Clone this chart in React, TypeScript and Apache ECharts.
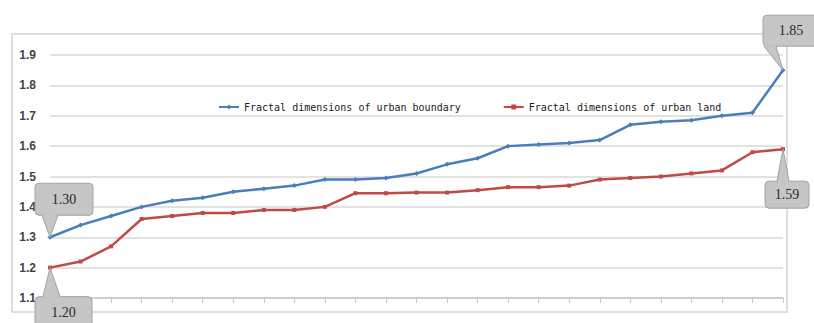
import React, { useEffect, useRef } from "react";
import * as echarts from "echarts";

// Sample order 1..25, sorted ascending by fractal dimension
const categories = Array.from({ length: 25 }, (_, i) => String(i + 1));

const boundaryDim = [
  1.30, 1.34, 1.37, 1.40, 1.42, 1.43, 1.45, 1.46, 1.47, 1.49, 1.49, 1.495, 1.51,
  1.54, 1.56, 1.60, 1.605, 1.61, 1.62, 1.67, 1.68, 1.685, 1.70, 1.71, 1.85,
];

const landDim = [
  1.20, 1.22, 1.27, 1.36, 1.37, 1.38, 1.38, 1.39, 1.39, 1.40, 1.445, 1.445, 1.447,
  1.447, 1.455, 1.465, 1.465, 1.47, 1.49, 1.495, 1.50, 1.51, 1.52, 1.58, 1.59,
];

const seriesNames = [
  "Fractal dimensions of urban boundary",
  "Fractal dimensions of urban land",
];

const yTicks = { min: 1.1, max: 1.9, interval: 0.1 };

// Callouts: which series / point they annotate, and box geometry relative to the tip
const callouts = [
  { series: 0, index: 0, box: [-15, -54, 58, 32], base: [-8, 8] },
  { series: 1, index: 0, box: [-15, 29, 57, 32], base: [-7, 10] },
  { series: 0, index: 24, box: [-20, -55, 56, 31], base: [-19, -7] },
  { series: 1, index: 24, box: [-18, 32, 44, 27], base: [-6, 6] },
];

const BLUE = "#4a7ebb";
const RED = "#be4b48";

export default function App() {
  const ref = useRef<HTMLDivElement>(null);

  useEffect(() => {
    if (!ref.current) return;
    const chart = echarts.init(ref.current, undefined, { renderer: "svg" });
    const values = [boundaryDim, landDim];

    chart.setOption({
      animation: false,
      backgroundColor: "#ffffff",
      grid: { left: 50, right: 31, top: 55, bottom: 25, containLabel: false },
      legend: {
        left: 213,
        top: 97,
        itemWidth: 20,
        itemHeight: 6,
        itemGap: 42,
        textStyle: { fontFamily: "DejaVu Sans Mono", fontSize: 10, color: "#1a1a1a" },
        data: seriesNames,
      },
      xAxis: {
        type: "category",
        data: categories,
        boundaryGap: false,
        axisLine: { lineStyle: { color: "#c8c8c8", width: 1.5 } },
        axisTick: { show: true, length: 5, lineStyle: { color: "#c8c8c8" } },
        axisLabel: { show: false },
        splitLine: { show: false },
      },
      yAxis: {
        type: "value",
        min: yTicks.min,
        max: yTicks.max,
        interval: yTicks.interval,
        axisLine: { show: false },
        axisTick: { show: false },
        axisLabel: {
          margin: 14,
          color: "#444",
          fontSize: 12,
          fontWeight: "bold",
          fontFamily: "Liberation Sans",
          formatter: (v: number) => v.toFixed(1),
        },
        splitLine: { lineStyle: { color: "#d8d8d8", width: 1.5 } },
      },
      series: [
        {
          name: seriesNames[0],
          type: "line",
          data: boundaryDim,
          symbol: "diamond",
          symbolSize: 5,
          itemStyle: { color: BLUE },
          lineStyle: { color: BLUE, width: 2.5 },
          z: 3,
        },
        {
          name: seriesNames[1],
          type: "line",
          data: landDim,
          symbol: "rect",
          symbolSize: 4,
          itemStyle: { color: RED },
          lineStyle: { color: RED, width: 2.5 },
          z: 3,
        },
      ],
    });

    const fill = "#c6c6c6";
    const stroke = "#a2a2a2";
    const elements: any[] = [
      {
        type: "rect",
        z: 0,
        silent: true,
        shape: { x: 12, y: 34, width: 775, height: 278 },
        style: { fill: "none", stroke: "#d4d4d4", lineWidth: 1.5 },
      },
    ];

    callouts.forEach((c) => {
      const v = values[c.series][c.index];
      const [tx, ty] = chart.convertToPixel({ seriesIndex: c.series }, [c.index, v]) as number[];
      const [bx, by, bw, bh] = c.box;
      const x = tx + bx;
      const y = ty + by;
      const edgeY = by < 0 ? y + bh : y;
      const b1: [number, number] = [tx + c.base[0], edgeY];
      const b2: [number, number] = [tx + c.base[1], edgeY];
      elements.push(
        {
          type: "rect",
          z: 10,
          shape: { x, y, width: bw, height: bh, r: 4 },
          style: { fill, stroke, lineWidth: 1 },
        },
        {
          type: "polygon",
          z: 11,
          shape: { points: [b1, [tx, ty], b2] },
          style: { fill, stroke, lineWidth: 1 },
        },
        {
          type: "line",
          z: 12,
          shape: { x1: b1[0] + 0.5, y1: edgeY, x2: b2[0] - 0.5, y2: edgeY },
          style: { stroke: fill, lineWidth: 2 },
        },
        {
          type: "text",
          z: 13,
          x: x + bw / 2,
          y: y + bh / 2,
          style: {
            text: v.toFixed(2),
            fill: "#2a2a2a",
            font: "14px 'Liberation Serif'",
            align: "center",
            verticalAlign: "middle",
          },
        }
      );
    });

    chart.setOption({ graphic: { elements } });

    return () => chart.dispose();
  }, []);

  return (
    <div
      ref={ref}
      style={{ position: "fixed", left: 0, top: 0, width: 814, height: 323 }}
    />
  );
}
